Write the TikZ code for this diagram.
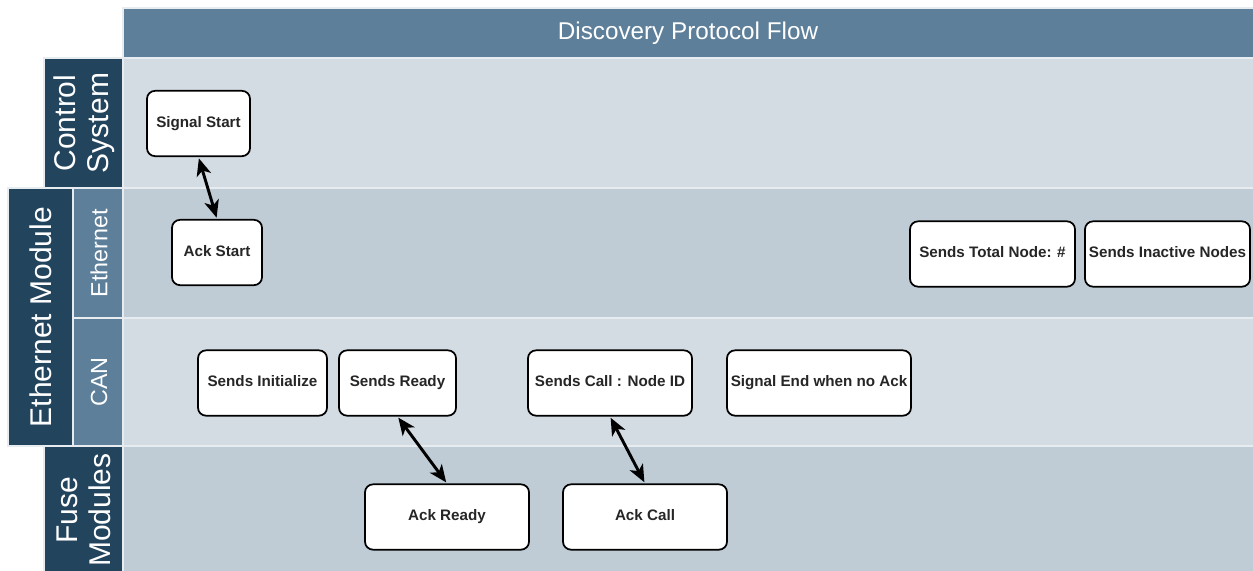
\documentclass[tikz,border=0pt]{standalone}
\usepackage{fontspec}
\setmainfont{Liberation Sans}
\usetikzlibrary{arrows.meta}

\definecolor{hdrblue}{HTML}{5D7F99}
\definecolor{darkblue}{HTML}{23445D}
\definecolor{lanelight}{HTML}{D4DCE3}
\definecolor{lanedark}{HTML}{BFCCD6}
\definecolor{laneedge}{HTML}{E6ECF0}

\begin{document}
\begin{tikzpicture}[x=0.75pt,y=-0.75pt,
  lane/.style={fill=#1, draw=laneedge, line width=1.5pt},
  lanetext/.style={text=white, rotate=90, align=center, inner sep=0pt,
    font=\fontsize{22.5}{25}\selectfont},
  subtext/.style={text=white, rotate=90, inner sep=0pt,
    font=\fontsize{17.5}{20}\selectfont},
  task/.style={draw=black, line width=1.3pt, rounded corners=6pt, fill=white,
    inner sep=0pt, minimum height=49pt, minimum width=#1*0.75pt,
    text height=8.2pt, text depth=2.4pt,
    text=black!85, font=\bfseries\fontsize{11.4}{13}\selectfont},
  link/.style={{Stealth[length=13pt,width=11pt,inset=3.5pt]}-{Stealth[length=13pt,width=11pt,inset=3.5pt]},
    line width=2.2pt, shorten <=1pt, shorten >=1pt}]
\def\xL{123}
\def\xR{1253}
\useasboundingbox (0,0) rectangle (\xR,571);
\clip (0,0) rectangle (\xR,571);

\filldraw[lane=hdrblue] (\xL,8) rectangle (\xR+5,58);
\filldraw[lane=lanelight] (\xL,58) rectangle (\xR+5,188);
\filldraw[lane=lanedark] (\xL,188) rectangle (\xR+5,318);
\filldraw[lane=lanelight] (\xL,318) rectangle (\xR+5,446);
\filldraw[lane=lanedark] (\xL,446) rectangle (\xR+5,590);

\filldraw[lane=darkblue] (44,58) rectangle (\xL,188);
\filldraw[lane=darkblue] (8,188) rectangle (73,446);
\filldraw[lane=hdrblue] (73,188) rectangle (\xL,318);
\filldraw[lane=hdrblue] (73,318) rectangle (\xL,446);
\filldraw[lane=darkblue] (44,446) rectangle (\xL,590);

\node[text=white, font=\fontsize{18.2}{20}\selectfont] (title) at (688,33) {Discovery Protocol Flow};
\node[lanetext] (ctrl) at (84,123) {Control\\System};
\node[lanetext] (ethmod) at (41,317) {Ethernet Module};
\node[subtext] (eth) at (99,253) {Ethernet};
\node[subtext] (can) at (99,382) {CAN};
\node[lanetext] (fuse) at (84,510) {Fuse\\Modules};

\node[task=103] (sigstart) at (198.5,123.5) {Signal Start};
\node[task=90] (ackstart) at (217,252.5) {Ack Start};
\node[task=165] (total) at (992.5,254) {Sends Total Node: \#};
\node[task=165] (inactive) at (1167.5,254) {Sends Inactive Nodes};

\node[task=129] (init) at (262.5,383) {Sends Initialize};
\node[task=117] (ready) at (397.5,383) {Sends Ready};
\node[task=164] (call) at (610,383) {Sends Call : Node ID};
\node[task=184] (sigend) at (819,383) {Signal End when no Ack};

\node[task=164] (ackready) at (447,517) {Ack Ready};
\node[task=164] (ackcall) at (645,517) {Ack Call};

\draw[link] (sigstart.south) -- (ackstart.north);
\draw[link] (ready.south) -- (ackready.north);
\draw[link] (call.south) -- (ackcall.north);
\end{tikzpicture}
\end{document}
